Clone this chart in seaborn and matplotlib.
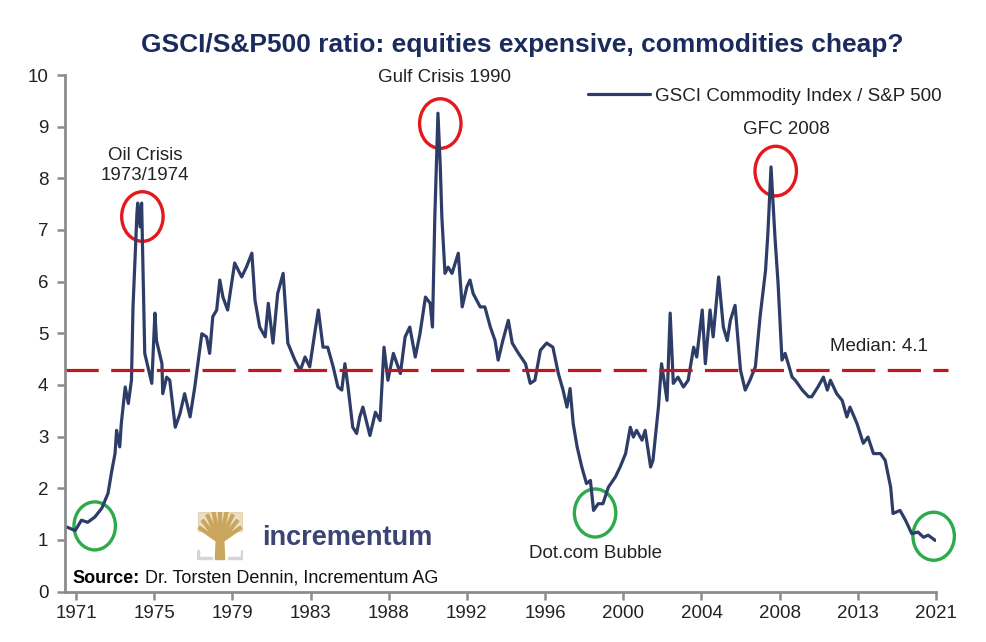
import matplotlib
matplotlib.use("Agg")
import matplotlib.pyplot as plt
from matplotlib.patches import Ellipse
import numpy as np
import pandas as pd
import seaborn as sns

# x position along the axis (tick index units, 1971 = 0 ... 2021 = 11) and ratio value
pos = [-0.12, -0.01, 0.07, 0.15, 0.24, 0.33, 0.41, 0.46, 0.50, 0.52, 0.56, 0.58, 0.63, 0.67, 0.71,
       0.73, 0.78, 0.79, 0.82, 0.84, 0.86, 0.88, 0.92, 0.97, 1.01, 1.03, 1.10, 1.11, 1.16, 1.20,
       1.27, 1.33, 1.39, 1.46, 1.52, 1.61, 1.67, 1.71, 1.75, 1.80, 1.84, 1.88, 1.94, 2.03, 2.12,
       2.18, 2.25, 2.29, 2.35, 2.42, 2.46, 2.52, 2.58, 2.65, 2.71, 2.80, 2.87, 2.93, 2.99, 3.06,
       3.10, 3.16, 3.22, 3.29, 3.35, 3.40, 3.44, 3.48, 3.54, 3.59, 3.63, 3.67, 3.76, 3.83, 3.89,
       3.94, 3.99, 4.06, 4.15, 4.21, 4.27, 4.34, 4.40, 4.47, 4.53, 4.56, 4.59, 4.63, 4.66, 4.68,
       4.72, 4.76, 4.81, 4.89, 4.94, 5.00, 5.04, 5.08, 5.17, 5.23, 5.30, 5.36, 5.40, 5.46, 5.53,
       5.58, 5.66, 5.75, 5.81, 5.87, 5.94, 6.02, 6.10, 6.17, 6.23, 6.28, 6.32, 6.36, 6.41, 6.47,
       6.53, 6.58, 6.62, 6.68, 6.74, 6.81, 6.90, 6.96, 7.03, 7.09, 7.13, 7.17, 7.24, 7.28, 7.35,
       7.38, 7.45, 7.49, 7.56, 7.60, 7.64, 7.70, 7.77, 7.83, 7.90, 7.94, 8.01, 8.05, 8.11, 8.15,
       8.22, 8.28, 8.33, 8.37, 8.43, 8.50, 8.56, 8.62, 8.69, 8.75, 8.82, 8.85, 8.89, 8.94, 8.98,
       9.03, 9.07, 9.11, 9.16, 9.20, 9.29, 9.37, 9.41, 9.49, 9.56, 9.61, 9.65, 9.73, 9.80, 9.86,
       9.90, 9.99, 10.07, 10.13, 10.20, 10.29, 10.35, 10.42, 10.45, 10.54, 10.61, 10.69, 10.77,
       10.84, 10.90, 10.99]
ratio = [1.25, 1.18, 1.38, 1.34, 1.44, 1.61, 1.90, 2.35, 2.67, 3.12, 2.80, 3.25, 3.96, 3.64, 4.09,
         5.51, 7.32, 7.52, 7.06, 7.52, 6.03, 4.61, 4.35, 4.03, 5.39, 4.86, 4.41, 3.83, 4.15, 4.09,
         3.18, 3.44, 3.83, 3.38, 3.96, 4.99, 4.93, 4.61, 5.32, 5.45, 6.03, 5.70, 5.45, 6.36, 6.09,
         6.28, 6.55, 5.64, 5.12, 4.93, 5.58, 4.81, 5.77, 6.16, 4.81, 4.48, 4.28, 4.54, 4.35, 5.06,
         5.45, 4.73, 4.73, 4.35, 3.96, 3.90, 4.41, 3.96, 3.18, 3.06, 3.38, 3.57, 3.02, 3.47, 3.31,
         4.73, 4.09, 4.61, 4.22, 4.93, 5.12, 4.54, 4.99, 5.70, 5.58, 5.12, 7.25, 9.26, 8.22, 7.25,
         6.16, 6.28, 6.16, 6.55, 5.51, 5.90, 6.03, 5.77, 5.51, 5.51, 5.12, 4.86, 4.48, 4.86, 5.25,
         4.81, 4.61, 4.41, 4.03, 4.09, 4.67, 4.81, 4.73, 4.22, 3.90, 3.57, 3.93, 3.25, 2.80, 2.41,
         2.09, 2.15, 1.57, 1.70, 1.70, 2.02, 2.22, 2.41, 2.67, 3.18, 2.99, 3.12, 2.93, 3.12, 2.41,
         2.54, 3.57, 4.41, 3.70, 5.39, 4.03, 4.15, 3.96, 4.09, 4.73, 4.54, 5.45, 4.41, 5.45, 4.93,
         6.09, 5.12, 4.86, 5.25, 5.54, 4.28, 3.90, 4.09, 4.35, 5.32, 6.22, 6.94, 8.22, 6.87, 5.97,
         4.48, 4.61, 4.41, 4.15, 4.09, 3.90, 3.77, 3.77, 3.96, 4.15, 3.90, 4.09, 3.83, 3.70, 3.38,
         3.57, 3.25, 2.87, 2.99, 2.67, 2.67, 2.54, 2.02, 1.51, 1.57, 1.38, 1.12, 1.15, 1.05,
         1.09, 0.99]
tick_labels = ["1971", "1975", "1979", "1983", "1988", "1992", "1996", "2000", "2004", "2008", "2013", "2021"]
median_line = 4.28

# highlighted events
peak_circles = [(0.85, 7.26), (4.66, 9.06), (8.95, 8.14)]
trough_circles = [(0.24, 1.27), (6.64, 1.52), (10.97, 1.07)]

df = pd.DataFrame({"pos": pos, "ratio": ratio})

sns.set_style("white")
plt.rcParams["font.family"] = ["Liberation Sans", "DejaVu Sans"]

fig = plt.figure(figsize=(9.87, 6.42), dpi=100)
ax = fig.add_axes([65 / 987, 1 - 591.5 / 642, 871 / 987, 516.5 / 642])

navy = "#2E3D68"
sns.lineplot(data=df, x="pos", y="ratio", ax=ax, color=navy, linewidth=2.3,
             label="GSCI Commodity Index / S&P 500")
ax.plot([-0.14, 11.15], [median_line, median_line], color="#C0161D", linewidth=2.3,
        dashes=(10.4, 3.9), clip_on=False)

for cx, cy in peak_circles:
    ax.add_patch(Ellipse((cx, cy), 0.53, 0.96, fill=False, edgecolor="#E3191E", linewidth=2.4))
for cx, cy in trough_circles:
    ax.add_patch(Ellipse((cx, cy), 0.53, 0.93, fill=False, edgecolor="#2DAA4C", linewidth=2.4,
                         clip_on=False))

ax.set_xlim(-0.14, 11.0)
ax.set_ylim(0, 10)
ax.set_xticks(range(len(tick_labels)))
ax.set_xticklabels(tick_labels)
ax.set_yticks(range(0, 11))
ax.set_xlabel("")
ax.set_ylabel("")
ax.tick_params(axis="both", labelsize=13.5, colors="#222222", length=6, width=1.8,
               color="#8C8C8C", direction="out", bottom=True, left=True)
ax.tick_params(axis="y", pad=6)
for side in ["top", "right"]:
    ax.spines[side].set_visible(False)
for side in ["left", "bottom"]:
    ax.spines[side].set_color("#8C8C8C")
    ax.spines[side].set_linewidth(2)

leg = ax.legend(loc="center right", bbox_to_anchor=(1.006, 0.959), frameon=False,
                fontsize=13.5, handlelength=3.3, handletextpad=0.25, borderpad=0, borderaxespad=0)
for t in leg.get_texts():
    t.set_color("#222222")

txt = dict(color="#222222", fontsize=13.5, ha="center", va="center")
ax.text(0.88, 8.25, "Oil Crisis\n1973/1974", linespacing=1.2, **txt)
ax.text(4.72, 9.95, "Gulf Crisis 1990", **txt)
ax.text(9.08, 8.94, "GFC 2008", **txt)
ax.text(10.27, 4.74, "Median: 4.1", **txt)
ax.text(6.64, 0.74, "Dot.com Bubble", **txt)

ax.text(-0.05, 0.26, "Source:", fontsize=13, fontweight="bold", color="black", va="center")
ax.text(0.88, 0.26, "Dr. Torsten Dennin, Incrementum AG", fontsize=13, color="#111111", va="center")

fig.text(522 / 987, 1 - 45 / 642, "GSCI/S&P500 ratio: equities expensive, commodities cheap?",
         ha="center", va="center", fontsize=19, fontweight="bold", color="#1B2B5E",
         family=["Liberation Sans Narrow", "Liberation Sans"])

# logo
fig.text(262 / 987, 1 - 538 / 642, "incrementum", ha="left", va="center", fontsize=19.5,
         fontweight="bold", color="#3A4571")
lax = fig.add_axes([197 / 987, 1 - 562 / 642, 46 / 987, 50 / 642])
lax.set_xlim(0, 1)
lax.set_ylim(0, 1)
lax.axis("off")
gold = "#C9A65B"
lax.fill([0.40, 0.60, 0.58, 0.42], [0.05, 0.05, 0.45, 0.45], color=gold)
for ang in np.linspace(-1.2, 1.2, 9):
    lax.plot([0.5, 0.5 + 0.5 * np.sin(ang)], [0.4, 0.4 + 0.55 * np.cos(ang) + 0.1],
             color=gold, linewidth=3, solid_capstyle="butt")
lax.fill([0.02, 0.98, 0.98, 0.02], [0.62, 0.62, 1.0, 1.0], color=gold, alpha=0.35)
lax.plot([0.02, 0.02, 0.3], [0.22, 0.08, 0.08], color="#D5D5D8", linewidth=2.5)
lax.plot([0.98, 0.98, 0.7], [0.22, 0.08, 0.08], color="#D5D5D8", linewidth=2.5)

fig.savefig("out.png", dpi=100)
